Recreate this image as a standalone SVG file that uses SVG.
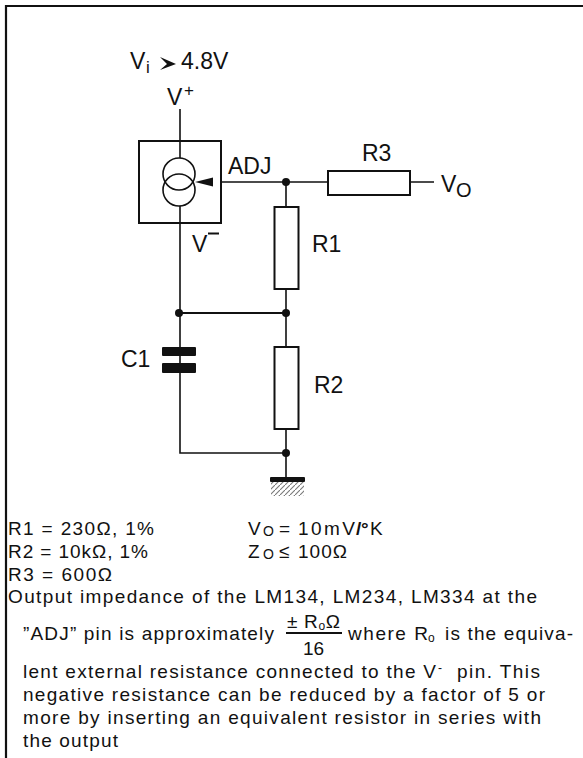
<svg xmlns="http://www.w3.org/2000/svg" width="583" height="758" viewBox="0 0 583 758">
<style>
text{font-family:"Liberation Sans",Arial,sans-serif;fill:#111}
.l{font-size:23px}
.s{font-size:19px}
.w{fill:none;stroke:#111;stroke-width:1.6}
.b{fill:#fff;stroke:#111;stroke-width:2}
.d{fill:#111;stroke:none}
</style>
<defs><pattern id="h" width="5" height="5" patternUnits="userSpaceOnUse"><path d="M0 5L5 0" stroke="#777" stroke-width="1.100"/></pattern></defs>
<path id="frame" d="M6 758V6H583" fill="none" stroke="#111" stroke-width="2.200"/>
<g id="connectors">
<path class="w" d="M180 109V158M180 206V453H286M286 182V207M286 289V347M286 429V477M288 182H329M410 182H434M220 182H288"/>
<path class="w" d="M180 313H286" style="stroke-width:2"/>
<path class="d" d="M195 182L213 177.500V186.500Z"/>
</g>
<g id="regulator">
<rect x="139" y="141" width="82" height="82" fill="none" stroke="#111" stroke-width="2"/>
<circle class="w" cx="179" cy="174" r="16"/><circle class="w" cx="179" cy="190" r="16"/>
</g>
<g id="R3"><rect class="b" x="328" y="171" width="82" height="24"/><text class="l" x="362" y="161">R3</text></g>
<g id="R1"><rect class="b" x="274.500" y="207" width="24" height="82"/><text class="l" x="312" y="252">R1</text></g>
<g id="R2"><rect class="b" x="274.500" y="347" width="24" height="82"/><text class="l" x="314" y="393">R2</text></g>
<g id="C1"><rect class="d" x="162" y="347" width="34" height="9" rx="1"/><rect class="d" x="162" y="363" width="34" height="10" rx="1"/><text class="l" x="121" y="367">C1</text></g>
<g id="junctions"><circle class="d" cx="286" cy="182" r="4"/><circle class="d" cx="179" cy="313" r="4"/><circle class="d" cx="286" cy="313" r="4"/><circle class="d" cx="286" cy="453" r="4"/></g>
<g id="ground"><rect class="d" x="270" y="477" width="35" height="5" rx="1"/><rect x="271" y="482" width="33" height="14" fill="url(#h)"/></g>
<g id="labels">
<text class="l" x="130" y="69">V</text><text x="146" y="73" font-size="17">i</text>
<path class="d" d="M160 57L176 64L160 70L167 64Z"/>
<text class="l" x="181" y="69">4.8V</text>
<text class="l" x="167" y="105">V</text><text x="184" y="96" font-size="17">+</text>
<text class="l" x="228" y="174">ADJ</text>
<text class="l" x="441" y="192">V</text><text x="456" y="197" font-size="20">O</text>
<text class="l" x="192" y="252">V</text><path class="d" d="M208 232.500H219V234.500H208Z"/>
</g>
<g id="notes">
<text class="s" x="8" y="535" textLength="146">R1 = 230Ω, 1%</text>
<text class="s" x="248" y="535">V</text><text x="263" y="536" font-size="14">O</text><text class="s" x="279" y="535">=</text><text class="s" x="298" y="535" textLength="57">10mV</text><text class="s" x="356" y="535" font-weight="bold">/</text><text class="s" x="361" y="535" font-weight="bold">°</text><text class="s" x="370" y="535">K</text>
<text class="s" x="8" y="558" textLength="140">R2 = 10kΩ, 1%</text>
<text class="s" x="248" y="558">Z</text><text x="263" y="559" font-size="14">O</text><text class="s" x="279" y="558">≤</text><text class="s" x="298" y="558" textLength="49">100Ω</text>
<text class="s" x="8" y="581" textLength="104">R3 = 600Ω</text>
<text class="s" x="8" y="603" textLength="529">Output impedance of the LM134, LM234, LM334 at the</text>
<text class="s" x="23" y="640" textLength="251">”ADJ” pin is approximately</text>
<text class="s" x="287" y="628" textLength="53">± R<tspan font-size="12" dy="2">o</tspan><tspan dy="-2">Ω</tspan></text>
<path d="M286 633H342" fill="none" stroke="#111" stroke-width="2"/>
<text class="s" x="303" y="655">16</text>
<text class="s" x="348" y="640" textLength="80">where R</text><text x="428" y="642" font-size="12">o</text>
<text class="s" x="445" y="640" textLength="128">is the equiva-</text>
<text class="s" x="23" y="678" textLength="413">lent external resistance connected to the V</text><text x="438" y="672" font-size="12">-</text>
<text class="s" x="457" y="678" textLength="83">pin. This</text>
<text class="s" x="23" y="701" textLength="522">negative resistance can be reduced by a factor of 5 or</text>
<text class="s" x="23" y="724" textLength="518">more by inserting an equivalent resistor in series with</text>
<text class="s" x="23" y="747" textLength="95">the output</text>
</g>
</svg>
